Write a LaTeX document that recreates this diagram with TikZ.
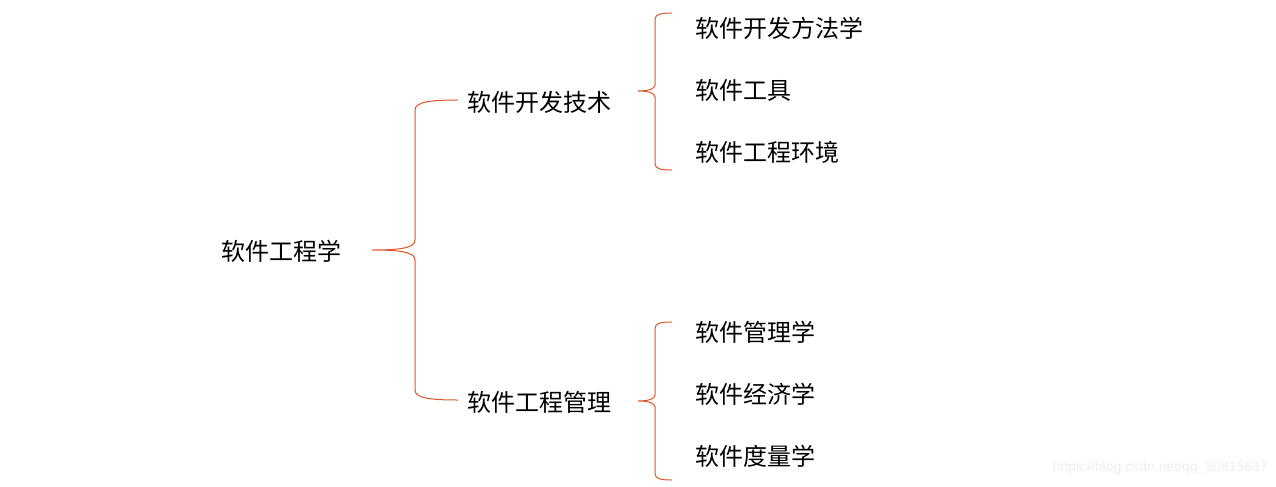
\documentclass[tikz,border=0pt]{standalone}
\usepackage{fontspec}
\newfontfamily\cjk{Noto Sans CJK SC}
\newfontfamily\wmfont{Liberation Sans}
\definecolor{bracecol}{RGB}{222,84,40}
\definecolor{wmcol}{RGB}{238,238,238}
\begin{document}
\begin{tikzpicture}[x=0.75pt,y=-0.75pt,
  lbl/.style={font=\cjk\fontsize{18}{20}\selectfont, anchor=west, inner sep=0pt, text=black},
  br/.style={draw=bracecol, line width=0.75pt},
  wm/.style={font=\wmfont\fontsize{10.5}{12}\selectfont, text=wmcol, anchor=east, inner sep=0pt}]
\useasboundingbox (0,0) rectangle (1276,486);
% labels
\node[lbl] (root) at (221,251) {软件工程学};
\node[lbl] (dev) at (467,102) {软件开发技术};
\node[lbl] (mgmt) at (467,402) {软件工程管理};
\node[lbl] (d1) at (695,28) {软件开发方法学};
\node[lbl] (d2) at (695,90) {软件工具};
\node[lbl] (d3) at (695,152) {软件工程环境};
\node[lbl] (m1) at (695,332) {软件管理学};
\node[lbl] (m2) at (695,394) {软件经济学};
\node[lbl] (m3) at (695,456) {软件度量学};
\node[wm] (wmark) at (1268,468) {https://blog.csdn.net/qq\_30815637};
% brace coordinates
\coordinate (bTip) at (372,250);
\coordinate (bTop) at (458,100);
\coordinate (bBot) at (458,400);
\coordinate (s1Tip) at (638,91);
\coordinate (s1Top) at (672,13);
\coordinate (s1Bot) at (672,170);
\coordinate (s2Tip) at (638,401);
\coordinate (s2Top) at (672,322);
\coordinate (s2Bot) at (672,480);
% big brace
\draw[br] (bTop) .. controls (430,100) and (415,102) .. (415,110) -- (415,240)
  .. controls (415,248) and (400,250) .. (bTip)
  .. controls (400,250) and (415,252) .. (415,260) -- (415,390)
  .. controls (415,398) and (430,400) .. (bBot);
% small brace 1
\draw[br] (s1Top) .. controls (662,13) and (655,14) .. (655,19) -- (655,85)
  .. controls (655,89) and (648,91) .. (s1Tip)
  .. controls (648,91) and (655,93) .. (655,97) -- (655,164)
  .. controls (655,169) and (662,170) .. (s1Bot);
% small brace 2
\draw[br] (s2Top) .. controls (662,322) and (655,323) .. (655,328) -- (655,395)
  .. controls (655,399) and (648,401) .. (s2Tip)
  .. controls (648,401) and (655,403) .. (655,407) -- (655,474)
  .. controls (655,479) and (662,480) .. (s2Bot);
\end{tikzpicture}
\end{document}
